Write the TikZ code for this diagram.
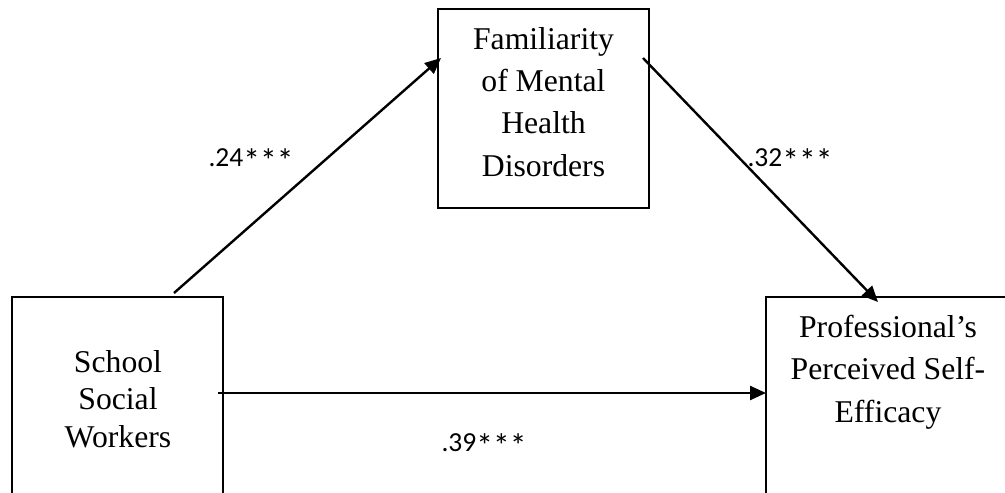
\documentclass[tikz,border=0pt]{standalone}
\usepackage{fontspec}
\setmainfont{Liberation Serif}
\newfontfamily\labfont{Carlito}
\usetikzlibrary{arrows.meta}
\newcommand{\bigstar}{\smash{\raisebox{-5.5pt}{\scalebox{1.22}{*}}}}
\tikzset{
  box/.style={draw=black, line width=2.4pt, rectangle, inner sep=0pt, outer sep=0pt},
  boxtext/.style={align=center, inner sep=0pt, anchor=base},
  conn/.style={draw=black, line width=2.4pt, -{Triangle[length=16pt,width=14pt]}},
  coef/.style={font={\labfont\fontsize{27.5}{32}\selectfont}, inner sep=0pt}
}
\begin{document}
\begin{tikzpicture}[x=1pt,y=-1pt]
\useasboundingbox (0,0) rectangle (1005,493);
\clip (0,0) rectangle (1005,493);
\fill[white] (0,0) rectangle (1005,493);
% boxes
\node[box, minimum width=211pt, minimum height=199pt] (fam) at (543.5,108.5) {};
\node[box, minimum width=211pt, minimum height=303pt] (ssw) at (117.5,448.5) {};
\node[box, minimum width=244pt, minimum height=303pt] (pse) at (888,448.5) {};
% box texts (anchored at the baseline of their last line)
\node[boxtext, font={\fontsize{31.7}{42.3}\selectfont}] (famt) at (543.5,176) {Familiarity\\of Mental\\Health\\Disorders};
\node[boxtext, font={\fontsize{31.7}{37.5}\selectfont}] (sswt) at (118,447) {School\\Social\\Workers};
\node[boxtext, font={\fontsize{31.7}{42.5}\selectfont}] (pset) at (888,422) {Professional’s\\Perceived Self-\\Efficacy};
% connector end points
\coordinate (a1s) at ([xshift=162pt,yshift=4pt]ssw.north west);
\coordinate (a1e) at ([xshift=3pt,yshift=-49pt]fam.north west);
\coordinate (a2s) at ([xshift=-6pt,yshift=-49pt]fam.north east);
\coordinate (a2e) at ([xshift=112pt,yshift=-5pt]pse.north west);
\coordinate (a3s) at ([xshift=-5pt,yshift=-96pt]ssw.north east);
\coordinate (a3e) at ([yshift=-96pt]pse.north west);
\draw[conn] (a1s) -- (a1e);
\draw[conn] (a2s) -- (a2e);
\draw[conn] (a3s) -- (a3e);
% coefficients
\node[coef] (c1) at (251,158) {.24\bigstar\bigstar\bigstar};
\node[coef] (c2) at (790,158) {.32\bigstar\bigstar\bigstar};
\node[coef] (c3) at (484,443) {.39\bigstar\bigstar\bigstar};
\end{tikzpicture}
\end{document}
